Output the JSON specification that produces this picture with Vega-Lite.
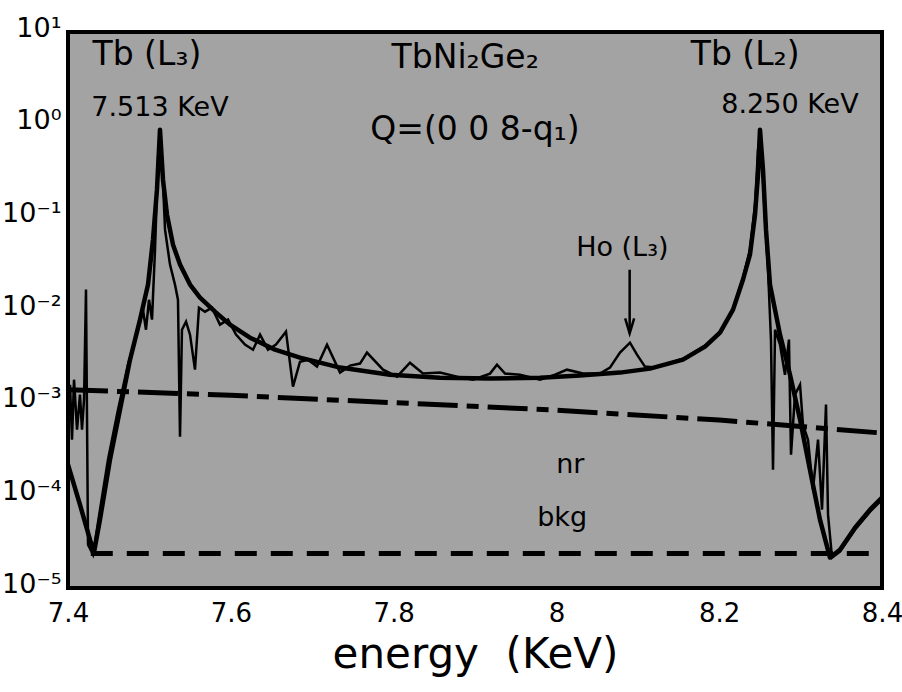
{
 "$schema": "https://vega.github.io/schema/vega-lite/v6.json",
 "width": 814, "height": 556,
 "autosize": {"type": "none"},
 "padding": {"left": 68, "top": 32, "right": 20, "bottom": 104},
 "background": "white",
 "config": {
  "view": {"fill": "#a3a3a3", "stroke": "black", "strokeWidth": 4},
  "font": "DejaVu Sans",
  "axis": {"labelColor": "black", "ticks": false, "domain": false, "grid": false, "labelFont": "DejaVu Sans", "titleFont": "DejaVu Sans", "titleColor": "black"}
 },
 "datasets": {
  "model": [
   {"E":7.4,"I":2.14e-4},{"E":7.4147,"I":7.93e-5},{"E":7.427,"I":3.33e-5},{"E":7.4319,"I":2.41e-5},{"E":7.4393,"I":5.47e-5},{"E":7.4516,"I":2.43e-4},{"E":7.4639,"I":8.41e-4},{"E":7.4762,"I":2.91e-3},{"E":7.4885,"I":7.87e-3},{"E":7.4983,"I":1.88e-2},{"E":7.5044,"I":5.74e-2},{"E":7.5093,"I":0.199},{"E":7.513,"I":0.883},{"E":7.5167,"I":0.255},{"E":7.5216,"I":0.107},{"E":7.529,"I":5.07e-2},{"E":7.5376,"I":3.09e-2},{"E":7.5499,"I":1.88e-2},{"E":7.5622,"I":1.36e-2},{"E":7.5806,"I":9.59e-3},{"E":7.599,"I":6.95e-3},{"E":7.6236,"I":5.03e-3},{"E":7.6543,"I":3.73e-3},{"E":7.685,"I":3.06e-3},{"E":7.7342,"I":2.39e-3},{"E":7.7956,"I":2.0e-3},{"E":7.857,"I":1.86e-3},{"E":7.9184,"I":1.82e-3},{"E":7.9799,"I":1.86e-3},{"E":8.029,"I":1.96e-3},{"E":8.0781,"I":2.11e-3},{"E":8.115,"I":2.33e-3},{"E":8.1555,"I":2.91e-3},{"E":8.1826,"I":4.02e-3},{"E":8.201,"I":5.69e-3},{"E":8.217,"I":1.01e-2},{"E":8.2292,"I":2.12e-2},{"E":8.2378,"I":3.96e-2},{"E":8.244,"I":0.107},{"E":8.2477,"I":0.289},{"E":8.2501,"I":0.883},{"E":8.2538,"I":0.327},{"E":8.2575,"I":7.36e-2},{"E":8.2624,"I":1.88e-2},{"E":8.2747,"I":5.42e-3},{"E":8.287,"I":2.0e-3},{"E":8.2993,"I":6.56e-4},{"E":8.3115,"I":1.89e-4},{"E":8.3238,"I":5.47e-5},{"E":8.3361,"I":2.13e-5},{"E":8.3484,"I":2.59e-5},{"E":8.3668,"I":4.48e-5},{"E":8.3853,"I":7.0e-5},{"E":8.4,"I":9.44e-5}
  ],
  "data": [
   {"E":7.4,"I":3.99e-4},{"E":7.4025,"I":1.56e-3},{"E":7.4049,"I":3.99e-4},{"E":7.4074,"I":1.77e-3},{"E":7.4111,"I":5.12e-4},{"E":7.4147,"I":1.22e-3},{"E":7.4172,"I":5.12e-4},{"E":7.4197,"I":1.08e-3},{"E":7.4221,"I":1.66e-2},{"E":7.4246,"I":2.94e-5},{"E":7.4307,"I":2.29e-5},{"E":7.4393,"I":7.0e-5},{"E":7.4491,"I":2.43e-4},{"E":7.4614,"I":8.41e-4},{"E":7.4737,"I":2.57e-3},{"E":7.486,"I":6.13e-3},{"E":7.4921,"I":1.01e-2},{"E":7.4958,"I":6.13e-3},{"E":7.4995,"I":1.29e-2},{"E":7.5032,"I":7.87e-3},{"E":7.5069,"I":4.48e-2},{"E":7.5106,"I":0.419},{"E":7.513,"I":0.78},{"E":7.5155,"I":0.419},{"E":7.5192,"I":7.36e-2},{"E":7.5253,"I":3.09e-2},{"E":7.5314,"I":1.88e-2},{"E":7.5351,"I":1.29e-2},{"E":7.5376,"I":4.3e-4},{"E":7.54,"I":6.13e-3},{"E":7.545,"I":7.48e-3},{"E":7.5499,"I":5.42e-3},{"E":7.556,"I":2.27e-3},{"E":7.5609,"I":1.06e-2},{"E":7.5683,"I":9.59e-3},{"E":7.5769,"I":1.06e-2},{"E":7.5867,"I":6.95e-3},{"E":7.5966,"I":7.87e-3},{"E":7.6064,"I":5.42e-3},{"E":7.6174,"I":4.23e-3},{"E":7.6273,"I":3.73e-3},{"E":7.6359,"I":5.42e-3},{"E":7.6457,"I":3.73e-3},{"E":7.6555,"I":4.23e-3},{"E":7.6678,"I":5.84e-3},{"E":7.6764,"I":1.49e-3},{"E":7.685,"I":2.77e-3},{"E":7.6948,"I":2.91e-3},{"E":7.7059,"I":2.45e-3},{"E":7.7182,"I":4.23e-3},{"E":7.7342,"I":2.11e-3},{"E":7.7464,"I":2.51e-3},{"E":7.7587,"I":2.64e-3},{"E":7.7673,"I":3.47e-3},{"E":7.787,"I":2.27e-3},{"E":7.8042,"I":1.91e-3},{"E":7.8201,"I":2.7e-3},{"E":7.8361,"I":2.06e-3},{"E":7.857,"I":2.11e-3},{"E":7.8779,"I":1.91e-3},{"E":7.8975,"I":1.77e-3},{"E":7.9184,"I":2.06e-3},{"E":7.927,"I":2.57e-3},{"E":7.9369,"I":2.06e-3},{"E":7.9553,"I":2.0e-3},{"E":7.9799,"I":1.77e-3},{"E":7.9983,"I":2.0e-3},{"E":8.013,"I":2.27e-3},{"E":8.0327,"I":2.06e-3},{"E":8.0536,"I":2.06e-3},{"E":8.0658,"I":2.39e-3},{"E":8.0781,"I":3.47e-3},{"E":8.0904,"I":4.44e-3},{"E":8.099,"I":3.3e-3},{"E":8.1088,"I":2.45e-3},{"E":8.1211,"I":2.39e-3},{"E":8.1555,"I":2.98e-3},{"E":8.1826,"I":4.12e-3},{"E":8.201,"I":5.84e-3},{"E":8.217,"I":1.01e-2},{"E":8.2292,"I":2.23e-2},{"E":8.2378,"I":4.48e-2},{"E":8.244,"I":0.137},{"E":8.2477,"I":0.537},{"E":8.2501,"I":0.78},{"E":8.2526,"I":0.419},{"E":8.2563,"I":9.44e-2},{"E":8.26,"I":2.72e-2},{"E":8.2636,"I":4.79e-3},{"E":8.2661,"I":1.89e-4},{"E":8.2686,"I":6.13e-3},{"E":8.2747,"I":4.23e-3},{"E":8.2808,"I":2.0e-3},{"E":8.2857,"I":4.79e-3},{"E":8.2882,"I":2.75e-4},{"E":8.2931,"I":1.22e-3},{"E":8.2993,"I":1.56e-3},{"E":8.3029,"I":5.79e-4},{"E":8.3091,"I":3.99e-4},{"E":8.3152,"I":1.15e-4},{"E":8.3214,"I":3.99e-4},{"E":8.3263,"I":7.0e-5},{"E":8.3312,"I":9.52e-4},{"E":8.3337,"I":6.19e-5},{"E":8.3386,"I":2.13e-5},{"E":8.3484,"I":2.47e-5},{"E":8.3668,"I":4.26e-5},{"E":8.3853,"I":6.67e-5},{"E":8.4,"I":8.98e-5}
  ],
  "nr": [
   {"E":7.4,"I":1.38e-3},{"E":7.6,"I":1.2e-3},{"E":7.8,"I":1.0e-3},{"E":8.0,"I":8.3e-4},{"E":8.2,"I":6.5e-4},{"E":8.4,"I":4.7e-4}
  ],
  "bkg": [
   {"E":7.428,"I":2.35e-5},{"E":8.4,"I":2.35e-5}
  ],
  "arrow": [
   {"E":8.09,"I":2.72e-2,"I2":5.6e-3}
  ],
  "labels": [
   {"t":"Tb (L₃)","E":7.497,"I":5.7,"k":"big"},
   {"t":"7.513 KeV","E":7.513,"I":1.52,"k":"note"},
   {"t":"TbNi₂Ge₂","E":7.888,"I":5.28,"k":"big"},
   {"t":"Q=(0 0 8-q₁)","E":7.9,"I":0.883,"k":"big"},
   {"t":"Tb (L₂)","E":8.232,"I":5.7,"k":"big"},
   {"t":"8.250 KeV","E":8.287,"I":1.64,"k":"note"},
   {"t":"Ho (L₃)","E":8.081,"I":4.71e-2,"k":"note"},
   {"t":"nr","E":8.017,"I":2.14e-4,"k":"note"},
   {"t":"bkg","E":8.007,"I":5.74e-5,"k":"note"}
  ]
 },
 "layer": [
  {
   "data": {"name": "bkg"},
   "mark": {"type": "line", "color": "black", "strokeWidth": 5, "strokeDash": [22, 14]},
   "encoding": {
    "x": {"field": "E", "type": "quantitative", "scale": {"domain": [7.4, 8.4], "nice": false, "zero": false},
     "axis": {"orient": "bottom", "values": [7.4,7.6,7.8,8.0,8.2,8.4],
      "labelExpr": "format(datum.value, '~g')",
      "labelPadding": 12, "labelFontSize": 26, "labelFlush": false, "labelOverlap": false,
      "title": "energy\u00a0\u00a0(KeV)", "titleFontSize": 42, "titleFontWeight": "normal", "titlePadding": 8}},
    "y": {"field": "I", "type": "quantitative", "scale": {"type": "log", "domain": [0.00001, 10], "nice": false},
     "axis": {"orient": "left", "values": [0.00001,0.0001,0.001,0.01,0.1,1,10],
      "labelExpr": "'10' + ['⁻⁵','⁻⁴','⁻³','⁻²','⁻¹','⁰','¹'][round(log(datum.value)/LN10)+5]",
      "labelPadding": 7, "labelOffset": -4, "labelFontSize": 27, "labelBaseline": "middle", "labelFlush": false, "labelOverlap": false, "title": null}}
   }
  },
  {
   "data": {"name": "nr"},
   "mark": {"type": "line", "color": "black", "strokeWidth": 5, "strokeDash": [40, 9, 12, 9]},
   "encoding": {
    "x": {"field": "E", "type": "quantitative", "scale": {"domain": [7.4, 8.4], "nice": false, "zero": false}},
    "y": {"field": "I", "type": "quantitative", "scale": {"type": "log", "domain": [0.00001, 10], "nice": false}}
   }
  },
  {
   "data": {"name": "model"},
   "mark": {"type": "line", "color": "black", "strokeWidth": 4.5, "strokeJoin": "round"},
   "encoding": {
    "x": {"field": "E", "type": "quantitative", "scale": {"domain": [7.4, 8.4], "nice": false, "zero": false}},
    "y": {"field": "I", "type": "quantitative", "scale": {"type": "log", "domain": [0.00001, 10], "nice": false}}
   }
  },
  {
   "data": {"name": "data"},
   "mark": {"type": "line", "color": "black", "strokeWidth": 2.5, "strokeJoin": "miter"},
   "encoding": {
    "x": {"field": "E", "type": "quantitative", "scale": {"domain": [7.4, 8.4], "nice": false, "zero": false}},
    "y": {"field": "I", "type": "quantitative", "scale": {"type": "log", "domain": [0.00001, 10], "nice": false}}
   }
  },
  {
   "data": {"name": "arrow"},
   "mark": {"type": "rule", "color": "black", "strokeWidth": 2.5},
   "encoding": {
    "x": {"field": "E", "type": "quantitative", "scale": {"domain": [7.4, 8.4], "nice": false, "zero": false}},
    "y": {"field": "I", "type": "quantitative", "scale": {"type": "log", "domain": [0.00001, 10], "nice": false}},
    "y2": {"field": "I2"}
   }
  },
  {
   "data": {"name": "arrow"},
   "mark": {"type": "point", "shape": "M-0.3,-1L0,0L0.3,-1", "filled": false, "color": "black", "strokeWidth": 2.5, "size": 900, "opacity": 1},
   "encoding": {
    "x": {"field": "E", "type": "quantitative", "scale": {"domain": [7.4, 8.4], "nice": false, "zero": false}},
    "y": {"field": "I2", "type": "quantitative", "scale": {"type": "log", "domain": [0.00001, 10], "nice": false}}
   }
  },
  {
   "data": {"name": "labels"},
   "transform": [{"filter": "datum.k == 'note'"}],
   "mark": {"type": "text", "fontSize": 27, "color": "black", "align": "center", "baseline": "middle"},
   "encoding": {
    "x": {"field": "E", "type": "quantitative", "scale": {"domain": [7.4, 8.4], "nice": false, "zero": false}},
    "y": {"field": "I", "type": "quantitative", "scale": {"type": "log", "domain": [0.00001, 10], "nice": false}},
    "text": {"field": "t"}
   }
  },
  {
   "data": {"name": "labels"},
   "transform": [{"filter": "datum.k == 'big'"}],
   "mark": {"type": "text", "fontSize": 33, "color": "black", "align": "center", "baseline": "middle"},
   "encoding": {
    "x": {"field": "E", "type": "quantitative", "scale": {"domain": [7.4, 8.4], "nice": false, "zero": false}},
    "y": {"field": "I", "type": "quantitative", "scale": {"type": "log", "domain": [0.00001, 10], "nice": false}},
    "text": {"field": "t"}
   }
  }
 ]
}
